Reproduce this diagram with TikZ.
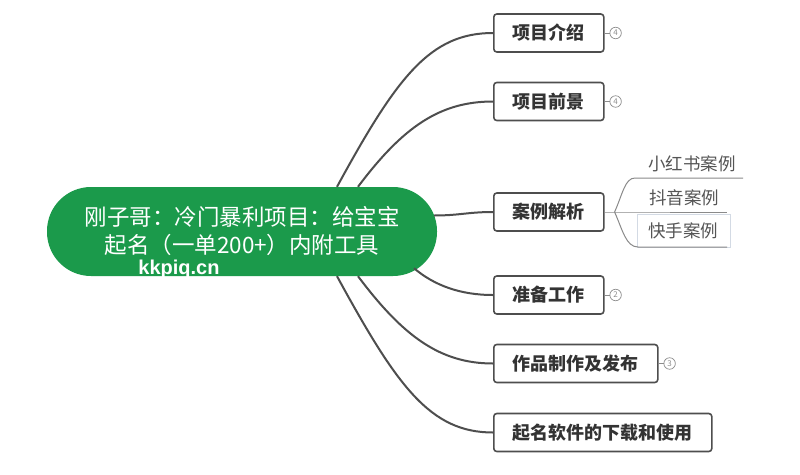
\documentclass[tikz,border=0pt]{standalone}
\usepackage{fontspec}
\setmainfont{Noto Sans CJK SC}
\newfontfamily\markfont{Liberation Sans}
\usepackage{tikz}
\usetikzlibrary{positioning,calc}
\definecolor{rootgreen}{HTML}{1B9A4B}
\definecolor{ink}{HTML}{333333}
\definecolor{edge}{HTML}{4E4E4E}
\definecolor{subink}{HTML}{555555}
\definecolor{thin}{HTML}{8A8A8A}
\definecolor{badge}{HTML}{8C8C8C}
\definecolor{selbox}{HTML}{D3DAE4}
\tikzset{
  rootbox/.style={
    rounded corners=44pt, fill=rootgreen, text=white, align=center,
    minimum width=390pt, minimum height=89pt, inner sep=0pt,
    font=\fontsize{22.5}{28}\selectfont
  },
  topic/.style={
    rounded corners=3pt, draw=edge, line width=1.6pt, fill=white,
    text=ink, anchor=west, minimum height=38pt, inner xsep=19pt,
    inner ysep=0pt, font=\fontsize{18}{18}\selectfont\bfseries
  },
  subtopic/.style={text=subink, inner sep=0pt, font=\fontsize{17.5}{18}\selectfont},
  count/.style={
    circle, draw=badge, line width=0.7pt, minimum size=11.5pt,
    inner sep=0pt, text=badge, font=\fontsize{8}{8}\selectfont
  },
  branch/.style={draw=edge, line width=2pt},
  twig/.style={draw=thin, line width=1pt},
  stub/.style={draw=badge, line width=0.8pt}
}

\begin{document}
\begin{tikzpicture}[x=1pt,y=-1pt]
  \useasboundingbox[fill=white] (0,0) rectangle (800,474);

  % central topic
  \node[rootbox] (root) at (242,231.5)
     {刚子哥：冷门暴利项目：给宝宝\\起名（一单200+）内附工具};
  \node[font=\markfont\bfseries\fontsize{20}{20}\selectfont, text=white] (mark) at (179,269) {kkpiq.cn};

  % main topics
  \node[topic] (intro) at (493,33)    {项目介绍};
  \node[topic] (outlook) at (493,101.5) {项目前景};
  \node[topic] (cases) at (493,212)   {案例解析};
  \node[topic] (prep) at (493,295)    {准备工作};
  \node[topic] (works) at (493,363.5) {作品制作及发布};
  \node[topic] (tools) at (493,432.5) {起名软件的下载和使用};

  % counters
  \node[count] (n1) at ([xshift=11pt]intro.east) {4};
  \node[count] (n2) at ([xshift=11pt]outlook.east) {4};
  \node[count] (n4) at ([xshift=11pt]prep.east) {2};
  \node[count] (n5) at ([xshift=11pt]works.east) {3};
  \foreach \t/\n in {intro/n1, outlook/n2, prep/n4, works/n5}
    \draw[stub] (\t.east) -- (\n.west);

  % branches
  \draw[branch] ([xshift=95pt]root.north) .. controls +(60,-110) and +(-63,0) .. (intro.west);
  \draw[branch] ([xshift=116pt]root.north) .. controls +(45,-60) and +(-53,0) .. (outlook.west);
  \draw[branch] ($(root.east)+(-3,-16)$) .. controls +(25,0) and +(-25,0) .. (cases.west);
  \draw[branch] ($(root.south)+(172,-8)$) .. controls +(20,17) and +(-33,0) .. (prep.west);
  \draw[branch] ([xshift=116pt]root.south) .. controls +(45,60) and +(-53,0) .. (works.west);
  \draw[branch] ([xshift=95pt]root.south) .. controls +(60,110) and +(-63,0) .. (tools.west);

  % sub topics of cases
  \coordinate (fork) at ([xshift=10pt]cases.east);
  \coordinate (xhsL) at (635,178);
  \coordinate (xhsR) at (743,178);
  \coordinate (dyR) at (727,212);
  \coordinate (ksL) at (638,247);
  \coordinate (ksR) at (727,247);
  \draw[selbox, line width=0.8pt] (637,214) rectangle (730,247);
  \node[subtopic] (xhs) at (692,164) {小红书案例};
  \node[subtopic] (dy) at (684,198) {抖音案例};
  \node[subtopic] (ks) at (683,231) {快手案例};
  \draw[twig] (cases.east) -- (fork) -- (dyR);
  \draw[twig] (fork) .. controls +(8,-18) and +(-10,0) .. (xhsL) -- (xhsR);
  \draw[twig] (fork) .. controls +(8,18) and +(-12,0) .. (ksL) -- (ksR);
\end{tikzpicture}
\end{document}
